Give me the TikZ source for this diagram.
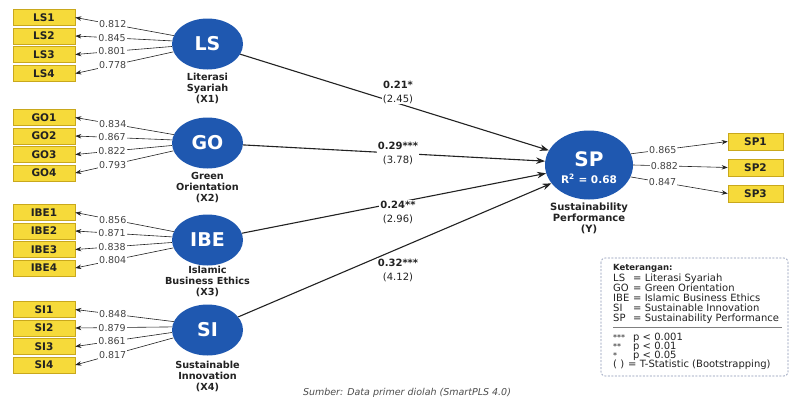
\documentclass[tikz,border=0pt]{standalone}
\usepackage{fontspec}
\setmainfont{DejaVu Sans}
\usetikzlibrary{shapes.geometric,arrows.meta}
\definecolor{cblue}{HTML}{1F58B0}
\definecolor{yfill}{HTML}{F6DA3A}
\definecolor{ydraw}{HTML}{C9A81C}
\definecolor{txt}{HTML}{222222}
\definecolor{lgd}{HTML}{8A96B4}
\newcommand{\fsz}[2]{\fontsize{#1}{#2}\selectfont}
\begin{document}
\begin{tikzpicture}[x=1pt,y=-1pt,
  lv/.style={ellipse, fill=cblue, text=white, minimum width=71pt, minimum height=51pt, inner sep=0pt, font=\fsz{19}{20}\bfseries},
  ind/.style={draw=ydraw, fill=yfill, line width=0.6pt, minimum width=62pt, minimum height=16pt, inner sep=0pt, font=\fsz{10.5}{11}\bfseries, text=txt},
  capt/.style={align=center, font=\fsz{9.7}{11}\bfseries, text=txt},
  load/.style={draw=txt, line width=0.6pt, -{Stealth[length=6pt,width=4.5pt]}},
  pth/.style={draw=txt, line width=1.1pt, -{Stealth[length=9pt,width=6.5pt]}},
  lbl/.style={fill=white, inner sep=1pt, font=\fsz{9.5}{10}, text=txt!85},
  coef/.style={fill=white, inner sep=1pt, align=center, font=\fsz{10}{14}, text=txt},
  leg/.style={anchor=base west, inner sep=0pt, font=\fsz{10}{10}, text=txt}
]
\useasboundingbox (0,0) rectangle (789,407);
\fill[white] (0,0) rectangle (789,407);

% latent variables
\node[lv] (LS) at (207.5,44) {LS};
\node[lv] (GO) at (207.5,143) {GO};
\node[lv] (IBE) at (207.5,240) {IBE};
\node[lv] (SI) at (207.5,330) {SI};
\node[lv, minimum width=88pt, minimum height=69pt] (SP) at (589,165) {};
\node[text=white, font=\fsz{20}{20}\bfseries, inner sep=0pt] (SPt) at (589,159) {SP};
\node[text=white, font=\fsz{10.5}{11}\bfseries, inner sep=0pt] (SPr) at (589,179) {R\textsuperscript{2} = 0.68};

\node[capt] (LSc) at (207.5,88) {Literasi\\Syariah\\(X1)};
\node[capt] (GOc) at (207.5,188) {Green\\Orientation\\(X2)};
\node[capt] (IBEc) at (207.5,281) {Islamic\\Business Ethics\\(X3)};
\node[capt] (SIc) at (207.5,376) {Sustainable\\Innovation\\(X4)};
\node[capt, font=\fsz{10}{11}\bfseries] (SPc) at (589,218) {Sustainability\\Performance\\(Y)};

% indicators
\foreach \k/\yy/\ld/\ang in {1/17.5/0.812/166, 2/36/0.845/175, 3/54.5/0.801/184, 4/73.5/0.778/193}{
  \node[ind] (LS\k) at (44,\yy) {LS\k};
  \draw[load] (LS.\ang) -- node[lbl,pos=0.62]{\ld} (LS\k.east);
}
\foreach \k/\yy/\ld/\ang in {1/117.5/0.834/166, 2/136/0.867/175, 3/154.5/0.822/184, 4/173/0.793/193}{
  \node[ind] (GO\k) at (44,\yy) {GO\k};
  \draw[load] (GO.\ang) -- node[lbl,pos=0.62]{\ld} (GO\k.east);
}
\foreach \k/\yy/\ld/\ang in {1/212.5/0.856/166, 2/231/0.871/175, 3/249.5/0.838/184, 4/268/0.804/193}{
  \node[ind] (IBE\k) at (44,\yy) {IBE\k};
  \draw[load] (IBE.\ang) -- node[lbl,pos=0.62]{\ld} (IBE\k.east);
}
\foreach \k/\yy/\ld/\ang in {1/309.5/0.848/166, 2/328/0.879/175, 3/346.5/0.861/184, 4/365/0.817/193}{
  \node[ind] (SI\k) at (44,\yy) {SI\k};
  \draw[load] (SI.\ang) -- node[lbl,pos=0.62]{\ld} (SI\k.east);
}
\foreach \k/\yy/\ld/\ang in {1/141.5/0.865/15, 2/167.5/0.882/0, 3/193.5/0.847/-16}{
  \node[ind, minimum width=55pt, minimum height=17pt] (SP\k) at (755.5,\yy) {SP\k};
  \draw[load] (SP.\ang) -- node[lbl,pos=0.33]{\ld} (SP\k.west);
}

% structural paths
\draw[pth] (LS) -- (SP.160);
\draw[pth] (GO) -- (SP.175);
\draw[pth] (IBE) -- (SP.191);
\draw[pth] (SI) -- (SP.206);

\node[coef] (c1) at (398,92) {\textbf{0.21*}\\(2.45)};
\node[coef] (c2) at (398,153.5) {\textbf{0.29***}\\(3.78)};
\node[coef] (c3) at (398,212) {\textbf{0.24**}\\(2.96)};
\node[coef] (c4) at (398,270) {\textbf{0.32***}\\(4.12)};

% legend
\draw[lgd, line width=0.7pt, dash pattern=on 2pt off 1.5pt, rounded corners=4pt] (601,258) rectangle (788,376);
\node[leg, font=\fsz{8.5}{10}\bfseries] (k0) at (613,270) {Keterangan:};
\node[leg] (a1) at (613,281) {LS};  \node[leg] (b1) at (633,281) {= Literasi Syariah};
\node[leg] (a2) at (613,291) {GO};  \node[leg] (b2) at (633,291) {= Green Orientation};
\node[leg] (a3) at (613,301) {IBE}; \node[leg] (b3) at (633,301) {= Islamic Business Ethics};
\node[leg] (a4) at (613,311) {SI};  \node[leg] (b4) at (633,311) {= Sustainable Innovation};
\node[leg] (a5) at (613,321) {SP};  \node[leg] (b5) at (633,321) {= Sustainability Performance};
\draw[gray, line width=0.6pt] (613,327) -- (782,327);
\node[leg, font=\fsz{8}{10}] (a6) at (613,340) {***}; \node[leg] (b6) at (633,340) {p < 0.001};
\node[leg, font=\fsz{8}{10}] (a7) at (613,349) {**}; \node[leg] (b7) at (633,349) {p < 0.01};
\node[leg, font=\fsz{8}{10}] (a8) at (613,358) {*};   \node[leg] (b8) at (633,358) {p < 0.05};
\node[leg] (a9) at (613,367) {( )}; \node[leg] (b9) at (628,367) {= T-Statistic (Bootstrapping)};

% source
\node[font=\fsz{9.5}{10}\itshape, text=txt!80] (src) at (407,393) {Sumber: Data primer diolah (SmartPLS 4.0)};
\end{tikzpicture}
\end{document}
